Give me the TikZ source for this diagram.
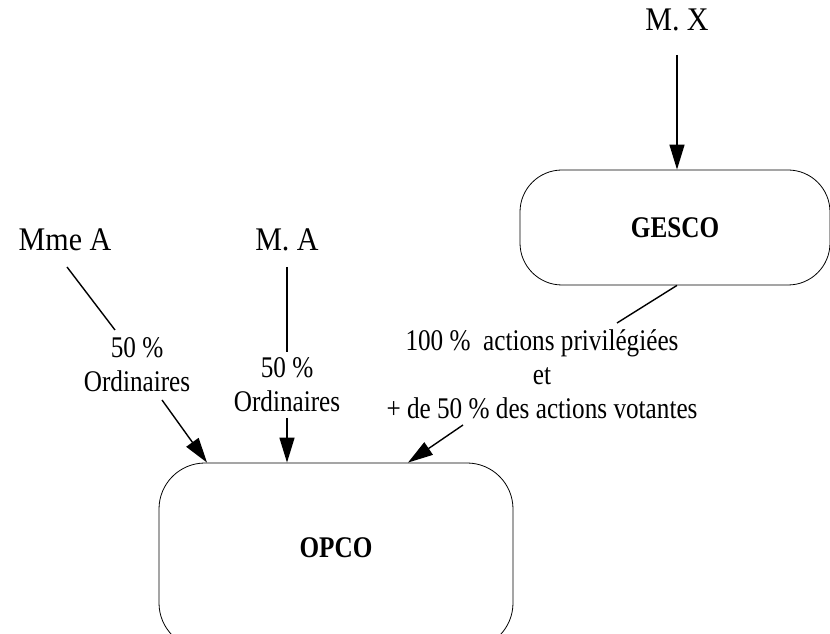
\documentclass[tikz,border=0pt]{standalone}
\usepackage{fontspec}
\setmainfont{Liberation Serif}
\newfontfamily\narrowserif[FakeStretch=0.84]{Liberation Serif}
\newfontfamily\personserif[FakeStretch=0.91]{Liberation Serif}
\usetikzlibrary{arrows.meta}
\begin{document}
\begin{tikzpicture}[x=1pt,y=1pt,
  box/.style={draw, line width=0.8pt, rounded corners=42pt, inner sep=0pt},
  person/.style={font=\personserif\fontsize{33}{36}\selectfont, inner sep=0pt},
  lab/.style={font=\narrowserif\fontsize{30}{34}\selectfont, align=center, inner sep=0pt},
  ttl/.style={font=\narrowserif\fontsize{30}{34}\selectfont\bfseries, inner sep=0pt},
  ln/.style={line width=1.4pt},
  arr/.style={line width=1.4pt, -{Triangle[length=25pt,width=15pt]}}]
\useasboundingbox (0,0) rectangle (830,634);
% nodes
\node[person] (mx) at (677,614) {M. X};
\node[box, minimum width=310pt, minimum height=115pt] (gesco) at (675,406.5) {};
\node[ttl] (gescot) at (gesco.center) {GESCO};
\node[person] (mmea) at (65,394) {Mme A};
\node[person] (ma) at (287,394) {M. A};
\node[box, rounded corners=46pt, minimum width=354pt, minimum height=186pt] (opco) at (336,78) {};
\node[ttl] (opcot) at (336,86) {OPCO};
\node[lab] (l1) at (137,269) {50 \%\\Ordinaires};
\node[lab] (l2) at (287,249) {50 \%\\Ordinaires};
\node[lab] (l3) at (542,260) {100 \%\ \ actions privilégiées\\et\\+ de 50 \% des actions votantes};
% connector ends
\coordinate (a1) at (67,367);
\coordinate (a2) at (115,304);
\coordinate (a3) at (162,234);
\coordinate (b1) at (287,367);
\coordinate (b2) at (287,282);
\coordinate (b3) at (287,216);
\coordinate (c1) at (617,311);
\coordinate (c2) at (463,209);
\coordinate (x1) at (677,579);
% connectors
\draw[arr] (x1) -- (gesco.north -| x1);
\draw[ln] (a1) -- (a2);
\draw[arr] (a3) -- ([xshift=-129pt]opco.north);
\draw[ln] (b1) -- (b2);
\draw[arr] (b3) -- ([xshift=-49pt]opco.north);
\draw[ln] ([xshift=2pt]gesco.south) -- (c1);
\draw[arr] (c2) -- ([xshift=72pt]opco.north);
\end{tikzpicture}
\end{document}
